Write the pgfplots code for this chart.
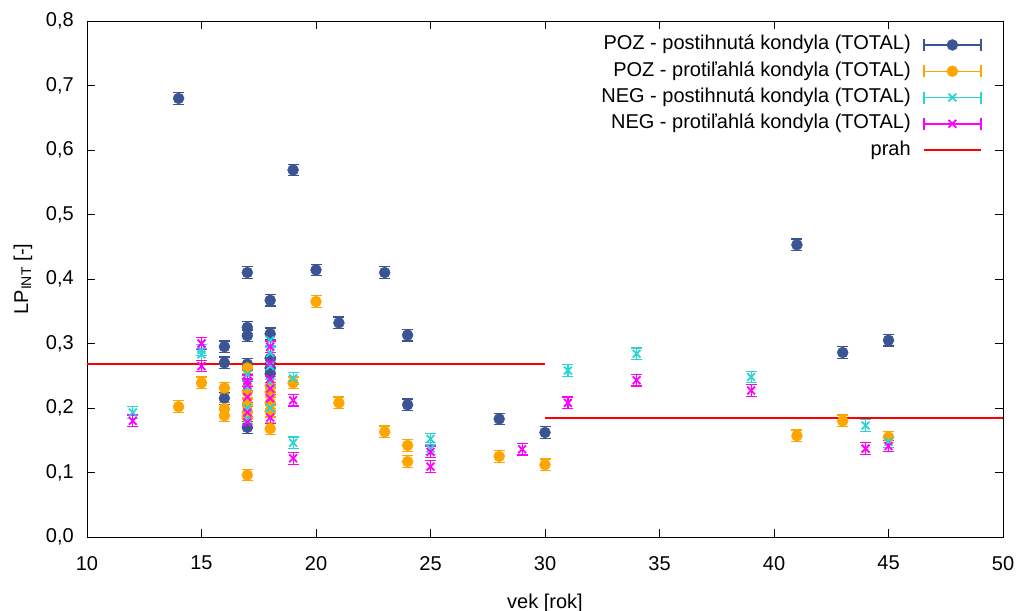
\documentclass[border=0pt]{standalone}
\usepackage{fontspec}
\setmainfont{Liberation Sans}
\usepackage{pgfplots}
\pgfplotsset{compat=1.18}

\definecolor{pozpost}{RGB}{59,84,148}
\definecolor{pozprot}{RGB}{255,165,0}
\definecolor{negpost}{RGB}{40,212,212}
\definecolor{negprot}{RGB}{255,0,255}
\definecolor{prahcol}{RGB}{255,0,0}

\newcommand{\chartfont}{\fontsize{20bp}{24bp}\selectfont}

\pgfplotsset{
  errbars/.style={
    error bars/.cd, y dir=both, y fixed=0.009,
    error bar style={line width=1.2bp},
    error mark options={rotate=90, mark size=5.5bp, line width=1.2bp},
    /pgfplots/.cd,
  },
  % legend sample: horizontal error bar with the mark in its middle
  gnulegend/.style={
    legend image code/.code={
      \draw[draw=#1, line width=1.4bp, solid] (0bp,0bp) -- (57bp,0bp)
        (0bp,-6bp) -- (0bp,6bp) (57bp,-6bp) -- (57bp,6bp);
      \draw[##1] plot coordinates {(28.5bp,0bp)};
    }
  },
  linelegend/.style={
    legend image code/.code={
      \draw[##1] (0bp,0bp) -- (57bp,0bp);
    }
  },
}

\begin{document}
\begin{tikzpicture}[x=1bp,y=1bp]
\useasboundingbox (-87,-74) rectangle (933,537);
\begin{axis}[
  at={(0,0)}, anchor=south west,
  scale only axis, width=916bp, height=516bp,
  xmin=10, xmax=50, ymin=0, ymax=0.8,
  xtick={10,15,20,25,30,35,40,45,50},
  ytick={0,0.1,0.2,0.3,0.4,0.5,0.6,0.7,0.8},
  tick align=inside, tick pos=both,
  major tick length=8bp,
  tick style={black, line width=0.8bp},
  axis line style={black, line width=0.8bp},
  /pgf/number format/assume math mode=true,
  every tick label/.append style={font=\chartfont},
  yticklabel style={/pgf/number format/.cd, fixed, fixed zerofill, precision=1, use comma, /tikz/.cd,
    inner sep=0pt, xshift=-13bp},
  xticklabel style={inner sep=0pt, yshift=-19bp},
  xlabel={vek [rok]},
  ylabel={LP\textsubscript{INT} [-]},
  label style={font=\chartfont, inner sep=0pt},
  xlabel style={at={(axis description cs:0.5,-0.1376)}, anchor=base},
  ylabel style={at={(axis description cs:-0.0644,0.5)}, anchor=base},
  legend cell align=right,
  legend plot pos=right,
  legend style={draw=none, fill=none, font=\chartfont,
    at={(axis description cs:0.9771,0.972)}, anchor=north east,
    row sep=7.3bp, column sep=12bp, inner sep=0pt, outer sep=0pt,
    nodes={inner sep=0pt, text height=14.5bp, text depth=4.5bp}},
]

% POZ - postihnuta kondyla
\addplot[only marks, mark=*, color=pozpost, mark size=5.5bp,
  mark options={fill=pozpost, draw=pozpost}, gnulegend=pozpost, errbars]
  coordinates {
  (14,0.680) (16,0.295) (16,0.270) (16,0.215)
  (17,0.410) (17,0.325) (17,0.312) (17,0.268) (17,0.170)
  (18,0.367) (18,0.315) (18,0.277) (18,0.262) (18,0.253)
  (19,0.569) (20,0.414) (21,0.332) (23,0.410)
  (24,0.313) (24,0.205) (28,0.183) (30,0.162)
  (41,0.453) (43,0.286) (45,0.305)
  };
\addlegendentry{POZ - postihnutá kondyla (TOTAL)}

% POZ - protilahla kondyla
\addplot[only marks, mark=*, color=pozprot, mark size=5.5bp,
  mark options={fill=pozprot, draw=pozprot}, gnulegend=pozprot, errbars]
  coordinates {
  (14,0.202) (15,0.239) (16,0.231) (16,0.199) (16,0.188)
  (17,0.262) (17,0.225) (17,0.205) (17,0.193) (17,0.185) (17,0.096)
  (18,0.235) (18,0.225) (18,0.208) (18,0.195) (18,0.168)
  (19,0.239) (20,0.365) (21,0.208) (23,0.163)
  (24,0.142) (24,0.117) (28,0.125) (30,0.112)
  (41,0.157) (43,0.180) (45,0.155)
  };
\addlegendentry{POZ - protiľahlá kondyla (TOTAL)}

% NEG - postihnuta kondyla
\addplot[only marks, mark=x, color=negpost, mark size=5.5bp, line width=1.8bp,
  mark options={draw=negpost, line width=1.8bp}, gnulegend=negpost, errbars]
  coordinates {
  (12,0.193) (15,0.290) (15,0.283)
  (17,0.252) (17,0.233) (17,0.200) (17,0.183)
  (18,0.305) (18,0.285) (18,0.265) (18,0.240) (18,0.200)
  (19,0.246) (19,0.146) (25,0.152) (25,0.137)
  (31,0.258) (34,0.284) (39,0.248) (44,0.173) (45,0.148)
  };
\addlegendentry{NEG - postihnutá kondyla (TOTAL)}

% NEG - protilahla kondyla
\addplot[only marks, mark=x, color=negprot, mark size=5.5bp, line width=1.8bp,
  mark options={draw=negprot, line width=1.8bp}, gnulegend=negprot, errbars]
  coordinates {
  (12,0.180) (15,0.300) (15,0.265)
  (17,0.242) (17,0.236) (17,0.217) (17,0.193) (17,0.178)
  (18,0.295) (18,0.270) (18,0.245) (18,0.230) (18,0.215) (18,0.185)
  (19,0.212) (19,0.122) (25,0.132) (25,0.109) (29,0.136)
  (31,0.208) (34,0.243) (39,0.227) (44,0.137) (45,0.141)
  };
\addlegendentry{NEG - protiľahlá kondyla (TOTAL)}

% threshold
\addplot[color=prahcol, line width=2.3bp, no marks, unbounded coords=jump, linelegend]
  coordinates {(10,0.268) (30,0.268) (30,nan) (30,0.185) (50,0.185)};
\addlegendentry{prah}

\end{axis}
\end{tikzpicture}
\end{document}
